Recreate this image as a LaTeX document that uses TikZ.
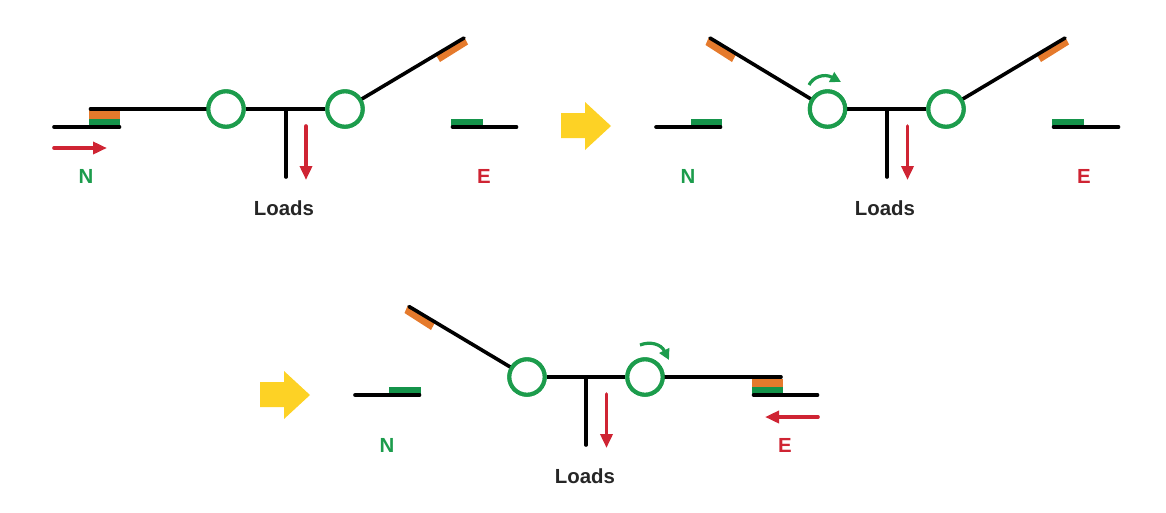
\documentclass[tikz,border=0pt]{standalone}
\usepackage{fontspec}
\setmainfont{Liberation Sans}
\usetikzlibrary{arrows.meta}
\definecolor{cgreen}{HTML}{1C9C4C}
\definecolor{cdgreen}{HTML}{14934A}
\definecolor{cred}{HTML}{CF2433}
\definecolor{corange}{HTML}{E57A2C}
\definecolor{cyellow}{HTML}{FDD225}
\tikzset{
  x=0.75pt,y=-0.75pt,
  wire/.style={line width=2.7pt,black,line cap=round},
  pivot/.style={circle,draw=cgreen,line width=3.1pt,fill=white,minimum size=26.5pt,inner sep=0pt},
  flow/.style={draw=cred,line width=2.7pt,line cap=round,-{Triangle[length=10.5pt,width=9pt,line cap=butt]}},
  turn/.style={draw=cgreen,line width=2.4pt,-{Triangle[length=8pt,width=8pt]}},
  txt/.style={font=\fontsize{15.3}{15.3}\selectfont\bfseries,inner sep=0pt},
  lblN/.style={txt,text=cgreen},
  lblE/.style={txt,text=cred},
  lblL/.style={txt,text=black!85},
  padg/.style={fill=cdgreen},
  pado/.style={fill=corange},
  bigarrow/.style={fill=cyellow},
}
\begin{document}
\begin{tikzpicture}
\useasboundingbox (0,0) rectangle (1166,512);
% ---------- Panel 1
\fill[pado] (89,110) rectangle (120,119);
\fill[padg] (89,119) rectangle (120,126);
\fill[padg] (451,119) rectangle (483,126);
\fill[pado] (465,38.5) -- (468,44.5) -- (440,62) -- (436.5,56) -- cycle;
\coordinate (a1nl) at (54,127); \coordinate (a1nr) at (119.5,127);
\coordinate (a1el) at (452.5,127); \coordinate (a1er) at (516.5,127);
\coordinate (a1tl) at (90.5,109); \coordinate (a1tip) at (464,38);
\coordinate (a1j) at (286,109); \coordinate (a1d) at (286,177);
\coordinate (a1fl) at (54,148); \coordinate (a1fr) at (107,148);
\coordinate (a1rt) at (306,126); \coordinate (a1rb) at (306,180);
\draw[wire] (a1nl) -- (a1nr);
\draw[wire] (a1el) -- (a1er);
\node[pivot] (p1a) at (226,109) {};
\node[pivot] (p1b) at (345,109) {};
\draw[wire,line cap=butt] (p1a) -- (p1b);
\draw[wire] (a1tl) -- (p1a);
\draw[wire] (p1b) -- (a1tip);
\draw[wire] (a1j) -- (a1d);
\node[pivot] at (226,109) {};
\node[pivot] at (345,109) {};
\draw[flow] (a1fl) -- (a1fr);
\draw[flow] (a1rt) -- (a1rb);
\node[lblN] (n1) at (86,176.5) {N};
\node[lblE] (e1) at (484,176.5) {E};
\node[lblL] (l1) at (284,208.5) {Loads};
% yellow arrow
\fill[bigarrow] (561,113) -- (585,113) -- (585,102) -- (611,126) -- (585,150) -- (585,138) -- (561,138) -- cycle;
% ---------- Panel 2
\fill[padg] (691,119) rectangle (722,126);
\fill[padg] (1052,119) rectangle (1084,126);
\fill[pado] (708.5,38) -- (705.5,45) -- (732,62) -- (735.5,55.5) -- cycle;
\fill[pado] (1066,38.5) -- (1069,44.5) -- (1041,62) -- (1037.5,56) -- cycle;
\coordinate (a2nl) at (656,127); \coordinate (a2nr) at (720.5,127);
\coordinate (a2el) at (1053.5,127); \coordinate (a2er) at (1118.5,127);
\coordinate (a2tipl) at (710,38); \coordinate (a2tipr) at (1065,38);
\coordinate (a2j) at (887,109); \coordinate (a2d) at (887,177);
\coordinate (a2rt) at (907.5,126); \coordinate (a2rb) at (907.5,180);
\coordinate (a2cs) at (809,85); \coordinate (a2ce) at (841,82);
\draw[wire] (a2nl) -- (a2nr);
\draw[wire] (a2el) -- (a2er);
\node[pivot] (p2a) at (827.5,109) {};
\node[pivot] (p2b) at (946,109) {};
\draw[wire,line cap=butt] (p2a) -- (p2b);
\draw[wire] (a2tipl) -- (p2a);
\draw[wire] (p2b) -- (a2tipr);
\draw[wire] (a2j) -- (a2d);
\node[pivot] at (827.5,109) {};
\node[pivot] at (946,109) {};
\draw[flow] (a2rt) -- (a2rb);
\draw[turn] (a2cs) .. controls (813,77) and (824,73) .. (a2ce);
\node[lblN] (n2) at (688,176.5) {N};
\node[lblE] (e2) at (1084,176.5) {E};
\node[lblL] (l2) at (885,208.5) {Loads};
% ---------- Panel 3
\fill[bigarrow] (260,382) -- (284,382) -- (284,371) -- (310,395) -- (284,419) -- (284,407) -- (260,407) -- cycle;
\fill[padg] (389,387) rectangle (421,394);
\fill[pado] (752,379) rectangle (783,387);
\fill[padg] (752,387) rectangle (783,394);
\fill[pado] (407.5,306) -- (404.5,313) -- (431,330) -- (434.5,323.5) -- cycle;
\coordinate (a3nl) at (355,395); \coordinate (a3nr) at (419.5,395);
\coordinate (a3el) at (753.5,395); \coordinate (a3er) at (817.5,395);
\coordinate (a3tip) at (409,306.5); \coordinate (a3tr) at (781,377);
\coordinate (a3j) at (586,377); \coordinate (a3d) at (586,445);
\coordinate (a3rt) at (606.5,394); \coordinate (a3rb) at (606.5,448);
\coordinate (a3fr) at (818,417); \coordinate (a3fl) at (765,417);
\coordinate (a3cs) at (640,345); \coordinate (a3ce) at (669,360);
\draw[wire] (a3nl) -- (a3nr);
\draw[wire] (a3el) -- (a3er);
\node[pivot] (p3a) at (527,377) {};
\node[pivot] (p3b) at (645,377) {};
\draw[wire,line cap=butt] (p3a) -- (p3b);
\draw[wire] (a3tip) -- (p3a);
\draw[wire] (p3b) -- (a3tr);
\draw[wire] (a3j) -- (a3d);
\node[pivot] at (527,377) {};
\node[pivot] at (645,377) {};
\draw[flow] (a3rt) -- (a3rb);
\draw[flow] (a3fr) -- (a3fl);
\draw[turn] (a3cs) .. controls (650,341) and (661,344) .. (a3ce);
\node[lblN] (n3) at (387,445.5) {N};
\node[lblE] (e3) at (785,445.5) {E};
\node[lblL] (l3) at (585,476.5) {Loads};
\end{tikzpicture}
\end{document}
